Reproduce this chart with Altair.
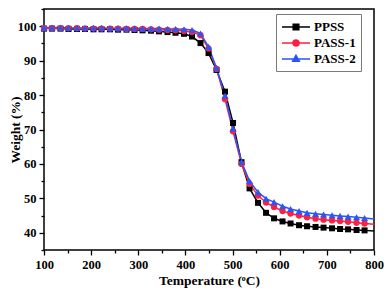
import altair as alt
import pandas as pd

temperature = [100, 117, 135, 152, 170, 187, 205, 222, 240, 257, 275, 292, 309, 327, 344,
               362, 379, 397, 414, 432, 449, 466, 484, 501, 519, 536, 554, 571, 588, 606,
               623, 641, 658, 676, 693, 711, 728, 745, 763, 780, 800]
ppss = [99.3, 99.3, 99.3, 99.2, 99.2, 99.2, 99.1, 99.1, 99.1, 99.0,
        99.0, 98.9, 98.8, 98.7, 98.5, 98.3, 98.1, 97.8, 97.0, 95.1,
        92.2, 87.3, 81.0, 71.9, 60.5, 52.9, 48.7, 45.8, 44.2, 43.3,
        42.7, 42.2, 41.9, 41.7, 41.5, 41.3, 41.1, 41.0, 40.8, 40.7, 40.5]
pass1 = [99.4, 99.4, 99.4, 99.4, 99.4, 99.3, 99.3, 99.3, 99.3, 99.3,
         99.2, 99.2, 99.2, 99.1, 99.0, 98.9, 98.8, 98.6, 98.3, 97.4,
         93.5, 87.6, 78.8, 69.5, 60.0, 54.2, 50.8, 48.8, 47.5, 46.3,
         45.6, 45.0, 44.5, 44.1, 43.8, 43.6, 43.4, 43.2, 42.9, 42.7, 42.5]
pass2 = [99.6, 99.6, 99.6, 99.5, 99.5, 99.5, 99.5, 99.5, 99.4, 99.4,
         99.4, 99.4, 99.3, 99.3, 99.3, 99.2, 99.2, 99.1, 98.9, 97.9,
         94.0, 87.9, 79.8, 70.2, 60.6, 55.0, 51.8, 49.9, 48.9, 47.7,
         46.9, 46.3, 45.8, 45.5, 45.3, 45.1, 44.9, 44.7, 44.5, 44.3, 44.0]
series = ["PPSS", "PASS-1", "PASS-2"]
colors = ["#000000", "#FF1F3F", "#2B55F5"]
shapes = ["square", "circle", "triangle-up"]
sizes = [36, 40, 50]
legend_paths = [
    "M-1,0H3M0.6,-0.4H1.4V0.4H0.6Z",
    "M-1,0H3M0.56,0A0.44,0.44,0,1,0,1.44,0A0.44,0.44,0,1,0,0.56,0Z",
    "M-1,0H3M1,-0.52L1.48,0.32L0.52,0.32Z",
]

rows = []
for s, vals in zip(series, [ppss, pass1, pass2]):
    for i, (t, w) in enumerate(zip(temperature, vals)):
        rows.append({"T": t, "W": w, "S": s, "idx": i})
df = pd.DataFrame(rows)

FONT = "Liberation Serif"
W, H = 330, 241

x_axis = alt.Axis(
    values=list(range(100, 801, 50)),
    labelExpr="datum.value % 100 === 0 ? datum.label : ''",
    tickSize={"condition": {"test": "datum.value % 100 === 0", "value": 5}, "value": 3},
    tickColor="black", tickWidth=1.3, domain=False, grid=False,
    labelFont=FONT, labelFontWeight="bold", labelFontSize=12.5, labelColor="black",
    labelPadding=3, labelFlush=False, labelOverlap=False,
    title="Temperature (ᵒC)", titleFont=FONT, titleFontWeight="bold", titleFontSize=13.5,
    titleColor="black", titleBaseline="alphabetic", titleX=W / 2, titleY=34, titleAlign="center",
)
y_axis = alt.Axis(
    values=list(range(35, 106, 5)),
    labelExpr="datum.value % 10 === 0 ? datum.label : ''",
    tickSize={"condition": {"test": "datum.value % 10 === 0", "value": 5}, "value": 3},
    tickColor="black", tickWidth=1.3, domain=False, grid=False,
    labelFont=FONT, labelFontWeight="bold", labelFontSize=12.5, labelColor="black",
    labelPadding=3, labelFlush=False, labelOverlap=False,
    title="Weight (%)", titleFont=FONT, titleFontWeight="bold", titleFontSize=13.5,
    titleColor="black", titleAngle=270, titleAlign="center", titleBaseline="bottom",
    titleX=-22, titleY=H / 2,
)

xs = alt.Scale(domain=[100, 800], nice=False, zero=False)
ys = alt.Scale(domain=[35, 105], nice=False, zero=False)

legend = alt.Legend(
    orient="none", legendX=232, legendY=5, title=None,
    strokeColor="#7a7a7a", fillColor="white", padding=5,
    labelFont=FONT, labelFontWeight="bold", labelFontSize=13, labelColor="black",
    symbolStrokeWidth=1.5, symbolSize=196, labelOffset=17, rowPadding=1,
)
color = alt.Color("S:N", scale=alt.Scale(domain=series, range=colors), legend=legend)

base = alt.Chart(df)

lines = base.mark_line(strokeWidth=1.5).encode(
    x=alt.X("T:Q", scale=xs, axis=x_axis),
    y=alt.Y("W:Q", scale=ys, axis=y_axis),
    color=color,
    order="idx:Q",
)

point_layers = []
for s, shp, sz in zip(series, shapes, sizes):
    point_layers.append(
        base.transform_filter((alt.datum.S == s) & (alt.datum.idx < 40))
        .mark_point(shape=shp, filled=True, size=sz, opacity=1)
        .encode(
            x=alt.X("T:Q", scale=xs, axis=x_axis),
            y=alt.Y("W:Q", scale=ys, axis=y_axis),
            color=color,
        )
    )

legend_layer = base.mark_point(opacity=0, filled=True).encode(
    x=alt.X("T:Q", scale=xs, axis=x_axis),
    y=alt.Y("W:Q", scale=ys, axis=y_axis),
    shape=alt.Shape("S:N", scale=alt.Scale(domain=series, range=legend_paths), legend=legend),
    color=color,
)

chart = alt.layer(lines, *point_layers, legend_layer).properties(
    width=W, height=H,
    background="white",
    autosize=alt.AutoSizeParams(type="none"),
    padding={"left": 36, "top": 1, "right": 10, "bottom": 40},
).configure_view(stroke="black", strokeWidth=1.5)

chart.save("out.html", embed_options={"renderer": "svg", "actions": False})
